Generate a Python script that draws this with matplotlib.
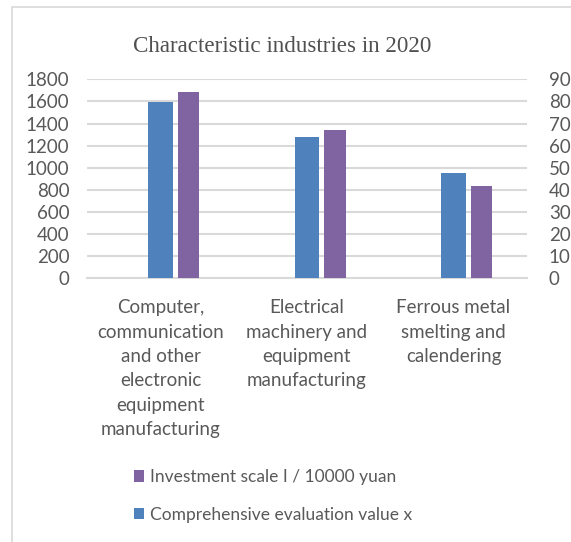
import matplotlib
matplotlib.use("Agg")
import matplotlib.pyplot as plt
from matplotlib.patches import Rectangle
import numpy as np

categories = [
    "Computer,\ncommunication\nand other\nelectronic\nequipment\nmanufacturing",
    "Electrical\nmachinery and\nequipment\nmanufacturing",
    "Ferrous metal\nsmelting and\ncalendering",
]
investment = [1688, 1339, 832]          # left axis, Investment scale I / 10000 yuan
evaluation = [79.9, 64.0, 47.6]          # right axis, Comprehensive evaluation value x
left_ticks = [0, 200, 400, 600, 800, 1000, 1200, 1400, 1600, 1800]
right_ticks = [0, 10, 20, 30, 40, 50, 60, 70, 80, 90]
title = "Characteristic industries in 2020"
label_inv = "Investment scale I / 10000 yuan"
label_eval = "Comprehensive evaluation value x"

BLUE = "#4F81BD"
PURPLE = "#8064A2"
GRID = "#D9D9D9"
TXT = "#595959"
SANS = ["Lato", "DejaVu Sans"]
FS = 13.5

fig = plt.figure(figsize=(5.71, 5.42), dpi=100)
fig.patch.set_facecolor("white")
fig.patches.append(Rectangle((12 / 571, -0.02), 1.0, 1 - 7 / 542 + 0.02,
                             transform=fig.transFigure, fill=False,
                             edgecolor=GRID, lw=1.2))

ax = fig.add_axes([0.1529, 0.4865, 0.7695, 0.3672])
ax2 = ax.twinx()
x = np.arange(len(categories))

ax.bar(x + 0.19, investment, width=0.146, color=PURPLE, zorder=3, label=label_inv)
ax2.bar(x, evaluation, width=0.165, color=BLUE, zorder=3, label=label_eval)

ax.set_xlim(-0.5, 2.5)
ax.set_ylim(0, 1800)
ax2.set_ylim(0, 90)
ax.set_yticks(left_ticks)
ax2.set_yticks(right_ticks)
ax.set_yticklabels([str(v) for v in left_ticks], family=SANS, fontsize=FS, color=TXT)
ax2.set_yticklabels([str(v) for v in right_ticks], family=SANS, fontsize=FS, color=TXT)
ax.set_xticks(x)
ax.set_xticklabels(categories, family=SANS, fontsize=FS, color=TXT, linespacing=1.53)
ax.yaxis.grid(True, color=GRID, lw=1.5, zorder=0)
ax.set_axisbelow(True)
for a in (ax, ax2):
    for s in a.spines.values():
        s.set_visible(False)
    a.tick_params(length=0)
ax.tick_params(axis="y", pad=13)
ax2.tick_params(axis="y", pad=16)
ax.tick_params(axis="x", pad=15)
ax.spines["bottom"].set_visible(True)
ax.spines["bottom"].set_color(GRID)
ax.spines["bottom"].set_linewidth(1.5)

fig.text(282 / 571, 1 - 46 / 542, title, family="Liberation Serif",
         fontsize=16.6, color="#505050", ha="center", va="center")

h1, l1 = ax.get_legend_handles_labels()
h2, l2 = ax2.get_legend_handles_labels()
leg = fig.legend(h1 + h2, l1 + l2, loc="center left",
                 bbox_to_anchor=(118 / 571, 1 - 496 / 542),
                 frameon=False, prop={"family": SANS, "size": 12.5},
                 handlelength=0.62, handleheight=0.62, handletextpad=0.35,
                 labelspacing=1.25, labelcolor=TXT)

fig.savefig("out.png", dpi=100, facecolor="white")
